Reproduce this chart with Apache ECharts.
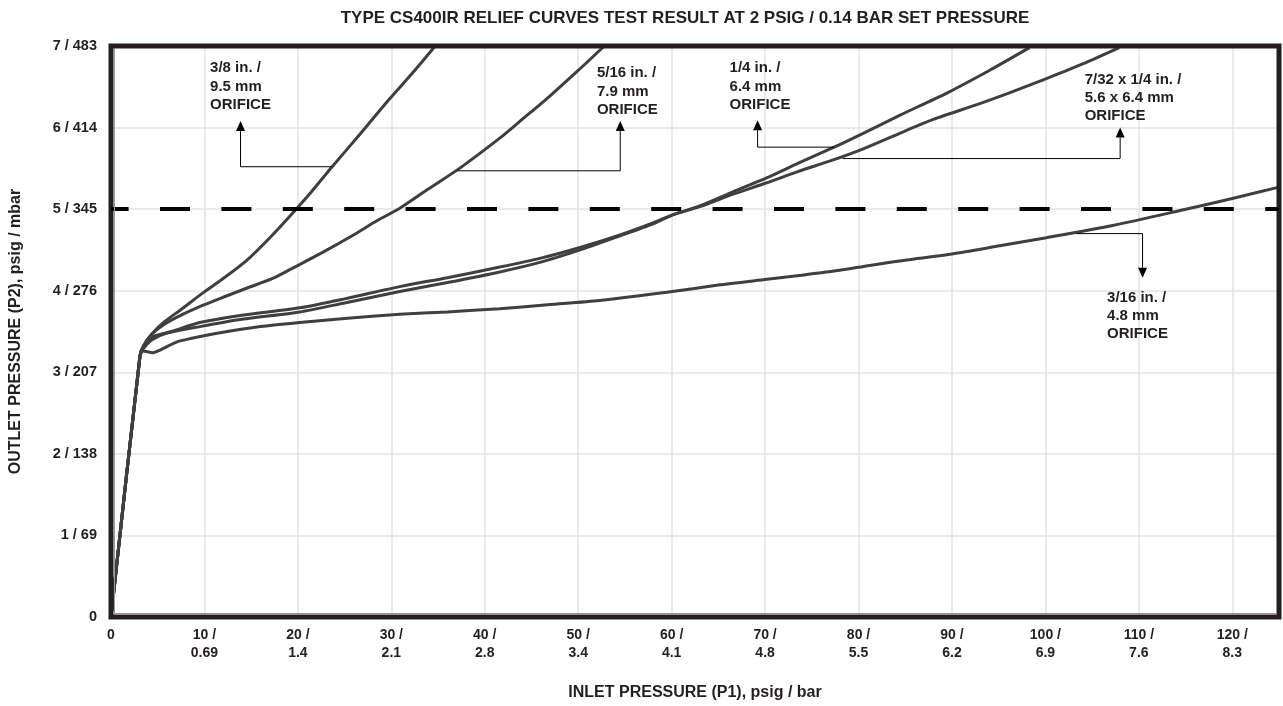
<!DOCTYPE html>
<html><head><meta charset="utf-8">
<script src="https://cdn.jsdelivr.net/npm/echarts@6/dist/echarts.min.js"></script>
<style>html,body{margin:0;padding:0;background:#fff}#c{width:1283px;height:706px}</style>
</head><body><div id="c"></div>
<script>
// ---------- data ----------
const chartTitle = 'TYPE CS400IR RELIEF CURVES TEST RESULT AT 2 PSIG / 0.14 BAR SET PRESSURE';
const xAxisName = 'INLET PRESSURE (P1), psig / bar';
const yAxisName = 'OUTLET PRESSURE (P2), psig / mbar';
const xTickLabels = ['0','10 /\n0.69','20 /\n1.4','30 /\n2.1','40 /\n2.8','50 /\n3.4','60 /\n4.1','70 /\n4.8','80 /\n5.5','90 /\n6.2','100 /\n6.9','110 /\n7.6','120 /\n8.3'];
const yTickLabels = ['0','1 / 69','2 / 138','3 / 207','4 / 276','5 / 345','6 / 414','7 / 483'];
const setPressure = 5;

// inlet psig, outlet psig
const orifice3_8 = [[0,0],[3.1,3.2],[3.5,3.33],[4.3,3.46],[5.5,3.6],[7.5,3.77],[9.8,3.97],[12,4.15],[14.5,4.37],[17,4.65],[19.5,4.96],[21.5,5.22],[23.6,5.51],[26.5,5.9],[29.8,6.35],[32.5,6.7],[34.7,7.0]];
const orifice5_16 = [[0,0],[3.1,3.2],[3.5,3.33],[4.4,3.47],[5.6,3.58],[7.5,3.7],[9.8,3.82],[12,3.92],[14.5,4.03],[17.3,4.15],[19.5,4.28],[22.5,4.46],[25.9,4.68],[28.5,4.86],[30.9,5.01],[34,5.25],[37.3,5.5],[41.6,5.87],[44,6.1],[47,6.39],[50,6.7],[52.8,7.0]];
const orifice1_4 = [[0,0],[3.1,3.2],[3.4,3.28],[4.4,3.4],[6,3.48],[9.5,3.56],[14,3.65],[20.2,3.74],[25,3.85],[30.9,3.99],[36,4.1],[41.6,4.23],[46,4.35],[50.2,4.5],[54.4,4.67],[58,4.82],[60.1,4.93],[63,5.04],[66.5,5.21],[70.1,5.38],[73.5,5.56],[77.2,5.75],[80.5,5.93],[84.4,6.15],[89.4,6.42],[94,6.7],[98.3,6.98]];
const orifice7_32x1_4 = [[0,0],[3.1,3.2],[3.4,3.3],[4.6,3.44],[6.5,3.5],[9.5,3.61],[14,3.7],[20.2,3.79],[25,3.9],[30.9,4.05],[36,4.16],[41.6,4.29],[46,4.4],[50.2,4.53],[54.4,4.68],[58,4.83],[60.1,4.93],[63,5.03],[66.5,5.18],[70.1,5.32],[73.5,5.46],[77.2,5.6],[80.5,5.74],[84.4,5.93],[88,6.1],[92.9,6.29],[96.5,6.44],[100.1,6.6],[104,6.78],[107.9,6.98]];
const orifice3_16 = [[0,0],[3.1,3.2],[3.4,3.26],[4.5,3.24],[5.2,3.27],[7,3.37],[8.4,3.41],[12,3.49],[16,3.56],[20.2,3.61],[25,3.66],[30.9,3.71],[36,3.74],[41.6,3.78],[47,3.83],[52.3,3.88],[59.5,3.98],[65,4.07],[70.2,4.14],[73.9,4.19],[78,4.25],[81.2,4.31],[86,4.39],[90,4.45],[95.1,4.55],[100.1,4.65],[107.2,4.8],[114.3,4.98],[120,5.13],[125,5.27]];

const seriesNames = ['3/8 in. / 9.5 mm','5/16 in. / 7.9 mm','1/4 in. / 6.4 mm','7/32 x 1/4 in. / 5.6 x 6.4 mm','3/16 in. / 4.8 mm'];
const seriesData = [orifice3_8, orifice5_16, orifice1_4, orifice7_32x1_4, orifice3_16];

const annotationTexts = ['3/8 in. /\n9.5 mm\nORIFICE','5/16 in. /\n7.9 mm\nORIFICE','1/4 in. /\n6.4 mm\nORIFICE','7/32 x 1/4 in. /\n5.6 x 6.4 mm\nORIFICE','3/16 in. /\n4.8 mm\nORIFICE'];
// ---------- layout (data-space anchors for callouts) ----------
const annotationLayout = [
  {text:[10.6,6.84], path:[[23.6,5.52],[13.86,5.52],[13.86,6.08]]},
  {text:[52.0,6.78], path:[[37.1,5.47],[54.5,5.47],[54.5,6.08]]},
  {text:[66.2,6.84], path:[[77.4,5.76],[69.2,5.76],[69.2,6.09]]},
  {text:[104.2,6.70], path:[[78.3,5.62],[108.0,5.62],[108.0,6.0]]},
  {text:[106.6,4.03], path:[[103.3,4.70],[110.4,4.70],[110.4,4.16]]}
];

const FONT = '"Liberation Sans", Arial, sans-serif';
const TXT = '#231f20';
const chart = echarts.init(document.getElementById('c'), null, {renderer:'canvas'});

const series = seriesData.map((d,i)=>({
  name: seriesNames[i], type:'line', data:d, smooth:0.25, showSymbol:false, symbol:'none',
  lineStyle:{color:'#3f3f3f', width:3}, z:3, silent:true, clip:true
}));
series[0].markLine = {
  silent:true, symbol:['none','none'], label:{show:false},
  lineStyle:{color:'#000', width:4, type:[30,31.4], dashOffset:12.4},
  data:[{yAxis:setPressure}]
};

chart.setOption({
  animation:false,
  backgroundColor:'#fff',
  title:{text:chartTitle, left:680, top:5, textAlign:'center',
    textStyle:{fontFamily:FONT, fontSize:17, fontWeight:'bold', color:TXT}},
  grid:{left:111, right:4, top:46, bottom:87, show:true, borderColor:'#231f20', borderWidth:5, backgroundColor:'transparent', z:5},
  xAxis:{type:'value', min:0, max:125, interval:10,
    name:xAxisName, nameLocation:'middle', nameGap:68,
    nameTextStyle:{fontFamily:FONT, fontSize:16, fontWeight:'bold', color:TXT},
    axisLine:{show:false}, axisTick:{show:false},
    axisLabel:{margin:9, fontFamily:FONT, fontSize:14, fontWeight:'bold', color:TXT, lineHeight:18,
      formatter:(v)=> (v%10===0 && xTickLabels[v/10]!==undefined) ? xTickLabels[v/10] : '',
      showMaxLabel:false},
    splitLine:{show:true, lineStyle:{color:'#e3e3e3', width:1.5}}},
  yAxis:{type:'value', min:0, max:7, interval:1,
    name:yAxisName, nameLocation:'middle', nameGap:87, nameRotate:90,
    nameTextStyle:{fontFamily:FONT, fontSize:16, fontWeight:'bold', color:TXT},
    axisLine:{show:false}, axisTick:{show:false},
    axisLabel:{margin:14, fontFamily:FONT, fontSize:14.5, fontWeight:'bold', color:TXT,
      formatter:(v)=> yTickLabels[v] !== undefined ? yTickLabels[v] : ''},
    splitLine:{show:true, lineStyle:{color:'#e3e3e3', width:1.5}}},
  series: series
});

// callouts
const px = p => chart.convertToPixel({xAxisIndex:0, yAxisIndex:0}, p);
const graphics = [];
annotationLayout.forEach((a,i)=>{
  const tp = px(a.text);
  graphics.push({type:'text', x:tp[0], y:tp[1], z:20,
    style:{text:annotationTexts[i], fill:TXT, font:'bold 15px '+FONT, lineHeight:18.3, verticalAlign:'top', align:'left'}});
  const pts = a.path.map(px);
  const n = pts.length;
  const tip = pts[n-1], prev = pts[n-2];
  const dir = tip[1] < prev[1] ? -1 : 1; // vertical arrow
  const ah = 10, aw = 4.5;
  const base = [tip[0], tip[1] - dir*ah];
  const linePts = pts.slice(0, n-1).concat([base]);
  graphics.push({type:'polyline', z:20, shape:{points:linePts}, style:{stroke:'#000', lineWidth:1, fill:null}});
  graphics.push({type:'polygon', z:20, shape:{points:[[tip[0],tip[1]],[tip[0]-aw, base[1]],[tip[0]+aw, base[1]]]}, style:{fill:'#000'}});
});
// inner highlight of frame (left & bottom)
const bl = px([0,0]), tl = px([0,7]), br = px([125,0]);
graphics.push({type:'polyline', z:21, shape:{points:[[bl[0]+3.5, tl[1]+3],[bl[0]+3.5, bl[1]-3.5],[br[0]-3, bl[1]-3.5]]}, style:{stroke:'#9a9a9a', lineWidth:1, fill:null}});
chart.setOption({graphic:graphics});
</script>
</body></html>
